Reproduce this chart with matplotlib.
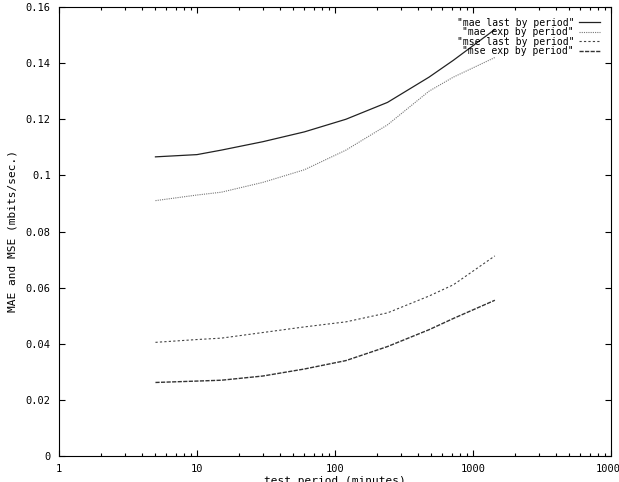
import matplotlib
matplotlib.use("Agg")
import matplotlib.pyplot as plt
from matplotlib.ticker import LogLocator, FixedLocator, FuncFormatter

# test period in minutes
periods = [5, 10, 15, 30, 60, 120, 240, 480, 720, 1440]

mae_last = [0.1066, 0.1074, 0.1090, 0.1120, 0.1155, 0.1200, 0.1260, 0.1350, 0.1410, 0.1520]
mae_exp = [0.0910, 0.0930, 0.0940, 0.0975, 0.1020, 0.1090, 0.1180, 0.1300, 0.1350, 0.1420]
mse_last = [0.0405, 0.0415, 0.0420, 0.0440, 0.0460, 0.0478, 0.0510, 0.0570, 0.0610, 0.0713]
mse_exp = [0.0262, 0.0267, 0.0270, 0.0285, 0.0310, 0.0340, 0.0390, 0.0450, 0.0490, 0.0555]

labels = ['"mae last by period"', '"mae exp by period"',
          '"mse last by period"', '"mse exp by period"']

FONT = "DejaVu Sans Mono"
plt.rcParams["font.family"] = FONT
plt.rcParams["font.size"] = 8

fig = plt.figure(figsize=(6.19, 4.82), dpi=100)
# frame in pixels: x 59..611, y 7..456
ax = fig.add_axes([59 / 619, 26 / 482, 552 / 619, 449 / 482])

ax.plot(periods, mae_last, color="#222222", lw=0.9, ls="-", label=labels[0])
ax.plot(periods, mae_exp, color="#777777", lw=0.8, ls=(0, (1, 1)), label=labels[1])
ax.plot(periods, mse_last, color="#444444", lw=0.8, ls=(0, (2, 2)), label=labels[2])
ax.plot(periods, mse_exp, color="#333333", lw=1.0, ls=(0, (3, 1)), label=labels[3])

ax.set_xscale("log")
ax.set_xlim(1, 10000)
ax.set_ylim(0, 0.16)

ax.xaxis.set_major_locator(LogLocator(base=10, numticks=10))
ax.xaxis.set_minor_locator(LogLocator(base=10, subs=range(2, 10), numticks=20))
ax.xaxis.set_major_formatter(FuncFormatter(lambda v, p: "%d" % round(v)))
ax.yaxis.set_major_locator(FixedLocator([0, 0.02, 0.04, 0.06, 0.08, 0.1, 0.12, 0.14, 0.16]))
ax.yaxis.set_major_formatter(FuncFormatter(lambda v, p: "%g" % round(v, 2)))

ax.tick_params(which="both", direction="in", top=True, right=True, width=0.8, labelsize=7.5)
ax.tick_params(which="major", length=4, pad=6)
ax.tick_params(which="minor", length=2)
for s in ax.spines.values():
    s.set_linewidth(0.8)

ax.set_xlabel("test period (minutes)", labelpad=1)
ax.set_ylabel("MAE and MSE (mbits/sec.)", labelpad=6)

ax.legend(loc="upper right", markerfirst=False, frameon=False,
          handlelength=2.2, handletextpad=0.5, labelspacing=-0.05,
          borderaxespad=0.7, fontsize=7)

fig.savefig("out.png", dpi=100)
